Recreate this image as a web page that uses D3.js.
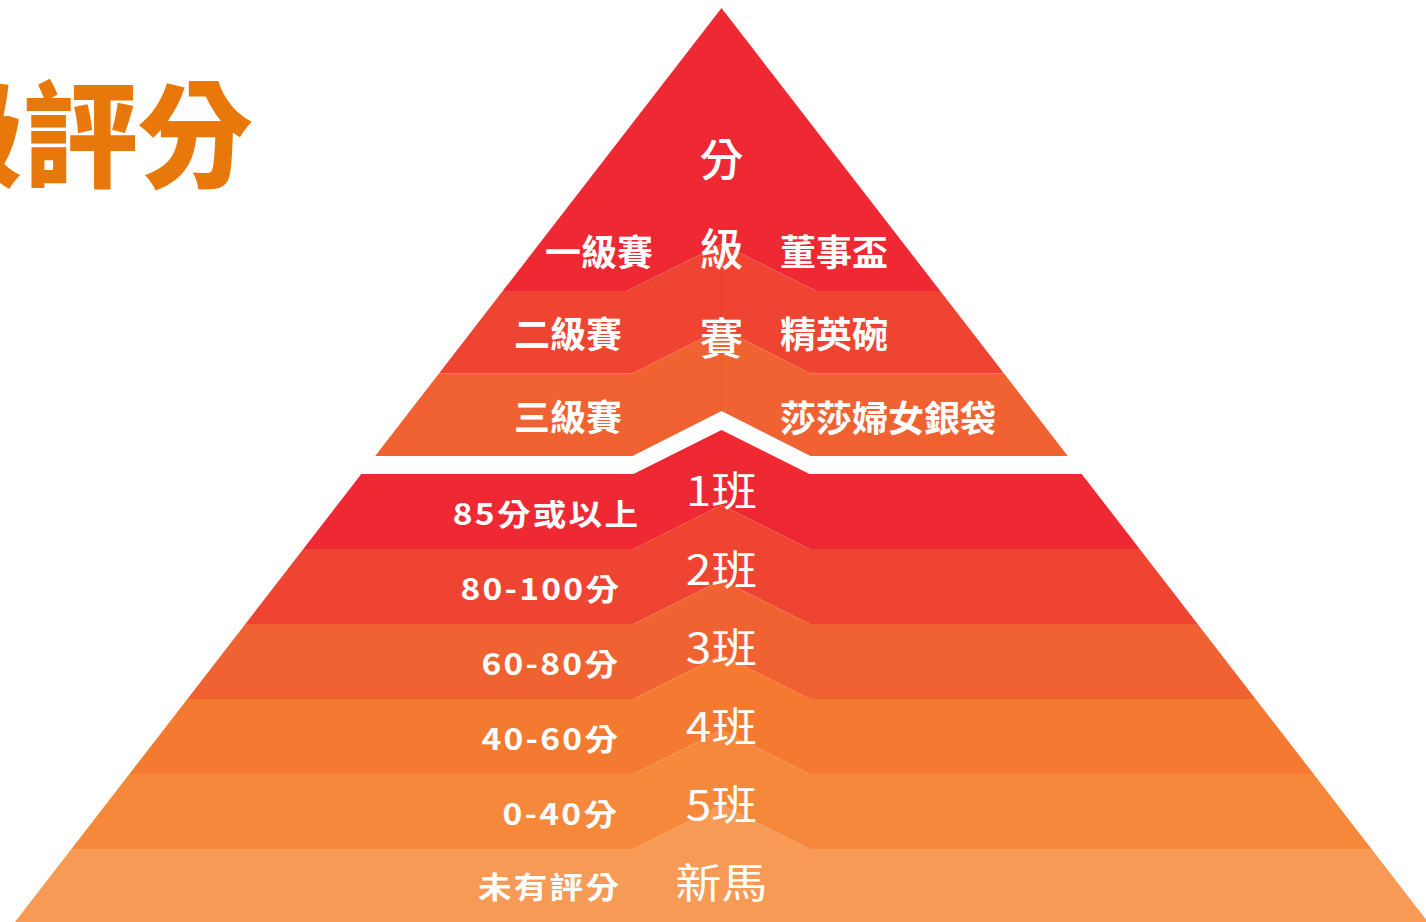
<!DOCTYPE html>
<html><head><meta charset="utf-8">
<script src="https://cdn.jsdelivr.net/npm/d3@7"></script>
<style>html,body{margin:0;padding:0;background:#fff;overflow:hidden}</style>
</head><body>
<svg id="chart" width="1426" height="922"></svg>
<script>
// ---------- data ----------
const titleText = "級評分";
const verticalTitle = ["分", "級", "賽"];
const topLeftLabels = ["一級賽", "二級賽", "三級賽"];
const topRightLabels = ["董事盃", "精英碗", "莎莎婦女銀袋"];
const lowerLeftLabels = ["85分或以上", "80-100分", "60-80分", "40-60分", "0-40分", "未有評分"];
const lowerCenterLabels = ["1班", "2班", "3班", "4班", "5班", "新馬"];
const topColors = ["#EE2934", "#F04433", "#F16233"];
const lowerColors = ["#EE2934", "#F04433", "#F16233", "#F47A32", "#F5883A", "#F69A55"];

// ---------- layout ----------
const W = 1426, H = 922;
const cx = 721.5, apexY = 8, slope = 0.773;
const font = "'Noto Sans CJK TC','Noto Sans CJK SC','Noto Sans',sans-serif";

const svg = d3.select("#chart");

const topBand = d3.scaleBand().domain(d3.range(topLeftLabels.length)).range([208.5, 456]);
const lowerBand = d3.scaleBand().domain(d3.range(lowerLeftLabels.length)).range([474, 924]);

// chevron boundary: horizontal line with an upward peak at the centre
function chevron(y, half, rise) {
  return [[-20, y], [cx - half, y], [cx, y - rise], [cx + half, y], [W + 20, y]];
}
const flatTop = [[-20, -20], [W + 20, -20]];
const flatBottom = [[-20, H + 20], [W + 20, H + 20]];

// clip triangle
const bottomY = H + 20;
const clip = svg.append("defs").append("clipPath").attr("id", "tri");
clip.append("path").attr("d", d3.line()([
  [cx, apexY], [cx - slope * (bottomY - apexY), bottomY], [cx + slope * (bottomY - apexY), bottomY]
]) + "Z");

const g = svg.append("g").attr("clip-path", "url(#tri)");
const line = d3.line();

// top pyramid boundaries (bottom of each band)
const topBottoms = topLeftLabels.map((d, i) => {
  const y = topBand(i) + topBand.step();
  return i === 0 ? chevron(y, 95, 47) : chevron(y, 89, 45);
});
topColors.forEach((c, i) => {
  const top = i === 0 ? flatTop : topBottoms[i - 1];
  const bot = topBottoms[i].slice().reverse();
  g.append("path").attr("d", line(top.concat(bot)) + "Z").attr("fill", c);
});

// lower pyramid
const lowerTops = lowerLeftLabels.map((d, i) => chevron(lowerBand(i), 88, 44));
lowerColors.forEach((c, i) => {
  const top = lowerTops[i];
  const bot = (i === lowerColors.length - 1 ? flatBottom : lowerTops[i + 1]).slice().reverse();
  g.append("path").attr("d", line(top.concat(bot)) + "Z").attr("fill", c);
});

// faint centre seam in top pyramid
g.append("line").attr("x1", cx).attr("x2", cx).attr("y1", 272).attr("y2", 411)
  .attr("stroke", "#9a1a22").attr("stroke-opacity", 0.12).attr("stroke-width", 1);

// ---------- text ----------
svg.append("text").text(titleText)
  .attr("x", 253).attr("y", 128)
  .attr("text-anchor", "end").attr("dominant-baseline", "central")
  .attr("font-family", font).attr("font-size", 115).attr("font-weight", 900)
  .attr("fill", "#E8780A");

const vScale = d3.scalePoint().domain(verticalTitle).range([157, 336]);
svg.selectAll("text.vt").data(verticalTitle).join("text").attr("class", "vt")
  .text(d => d).attr("x", cx).attr("y", d => vScale(d))
  .attr("text-anchor", "middle").attr("dominant-baseline", "central")
  .attr("font-family", font).attr("font-size", 44).attr("font-weight", 500).attr("fill", "#fff");

const topLeftEnd = [653, 622, 622];
svg.selectAll("text.tl").data(topLeftLabels).join("text").attr("class", "tl")
  .text(d => d).attr("x", (d, i) => topLeftEnd[i]).attr("y", (d, i) => topBand(i) + topBand.step() / 2)
  .attr("text-anchor", "end").attr("dominant-baseline", "central")
  .attr("font-family", font).attr("font-size", 36).attr("font-weight", 700).attr("fill", "#fff");

svg.selectAll("text.tr").data(topRightLabels).join("text").attr("class", "tr")
  .text(d => d).attr("x", 780).attr("y", (d, i) => topBand(i) + topBand.step() / 2 + (i === 2 ? 1 : 0))
  .attr("text-anchor", "start").attr("dominant-baseline", "central")
  .attr("font-family", font).attr("font-size", 36).attr("font-weight", 700).attr("fill", "#fff");

// lower labels are drawn slightly widened, as in the reference
const stretch = 1.12;
const llSpacing = 2;
const lowerLeftEnd = [638, 619, 618, 618, 617, 619];
svg.selectAll("text.ll").data(lowerLeftLabels).join("text").attr("class", "ll")
  .text(d => d)
  .attr("transform", (d, i) => {
    const x = lowerLeftEnd[i] + llSpacing * stretch;
    const y = lowerBand(i) + lowerBand.step() / 2 - (i === lowerLeftLabels.length - 1 ? 2 : 0);
    return `translate(${x},${y}) scale(${stretch},1)`;
  })
  .attr("text-anchor", "end").attr("dominant-baseline", "central")
  .attr("font-family", font).attr("font-size", 30).attr("font-weight", 700)
  .attr("letter-spacing", llSpacing).attr("fill", "#fff");

const cScale = d3.scalePoint().domain(lowerCenterLabels).range([489, 881]);
svg.selectAll("text.lc").data(lowerCenterLabels).join("text").attr("class", "lc")
  .text(d => d)
  .attr("transform", d => `translate(${cx},${cScale(d)}) scale(${stretch},1)`)
  .attr("text-anchor", "middle").attr("dominant-baseline", "central")
  .attr("font-family", font).attr("font-size", 41).attr("font-weight", 400).attr("fill", "#fff");
</script>
</body></html>
